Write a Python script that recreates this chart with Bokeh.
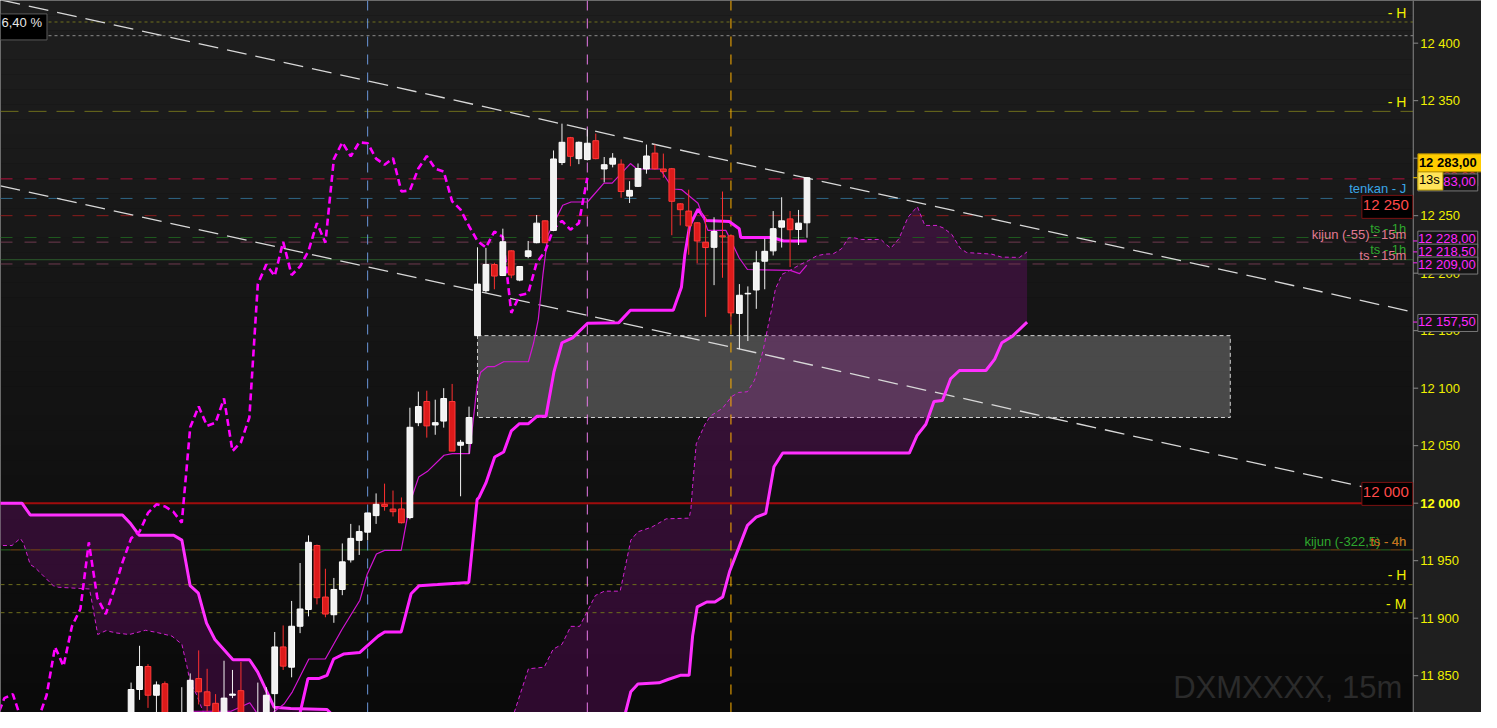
import numpy as np
from bokeh.plotting import figure
from bokeh.models import Range1d, Label, ColumnDataSource
from bokeh.core.properties import value
from bokeh.embed import file_html
from bokeh.resources import INLINE

# ------------------------------------------------------------------ data
bar_index = list(range(81))
opens = [11812, 11838, 11858, 11833, 11843, 11812, 11800, 11812, 11847.5, 11836,
         11826, 11812, 11833, 11837, 11800, 11800, 11812, 11834.4, 11875, 11857.4,
         11893, 11907.6, 11963.2, 11918.4, 11903, 11925, 11950.7, 11967.7, 11974.8, 11989.2,
         11999, 11994.9, 11995, 11987.5, 12070, 12088.4, 12068, 12071.4, 12088.4, 12050.4,
         12052, 12145.7, 12184.8, 12207.5, 12198, 12219.4, 12194, 12214.6, 12226.5, 12245.5,
         12237.2, 12296.2, 12317.8, 12299.6, 12298.8, 12315.2, 12290.6, 12294.8, 12294.8, 12267,
         12275.5, 12290.6, 12304.4, 12290.6, 12290.8, 12260.3, 12254, 12243.8, 12226.9, 12222.5,
         12232.5, 12232.5, 12165, 12182, 12185.4, 12210.4, 12219.4, 12240, 12247.2, 12238,
         12243.8]
highs = [11844, 11876, 11860, 11845, 11845, 11816, 11840, 11852, 11872, 11856,
         11834, 11863, 11855, 11862, 11815, 11844, 11840, 11888, 11893.7, 11915,
         11948, 11972, 11964, 11943, 11935, 11965, 11982, 11980.7, 11991.5, 12008.5,
         12017, 12011, 12005, 12083, 12097, 12097.8, 12090, 12100, 12103.7, 12055,
         12084, 12222.5, 12222, 12209, 12238.7, 12220, 12206, 12228, 12250.6, 12246,
         12306.7, 12330, 12318.5, 12314.5, 12325, 12321.4, 12301, 12304.4, 12299, 12280,
         12295.4, 12311.8, 12311.8, 12304, 12291.5, 12261, 12272.6, 12244.5, 12248.6, 12248.6,
         12271, 12233, 12190.5, 12188.5, 12219.4, 12230, 12254, 12266, 12254, 12255,
         12283.4]
lows = [11805, 11829, 11822, 11812, 11805, 11800, 11795, 11805, 11825, 11819,
        11806, 11808, 11830.5, 11808, 11795, 11795, 11808, 11815, 11855, 11848.6,
        11887, 11901.6, 11912, 11900.8, 11896, 11920, 11948.4, 11955, 11967.7, 11982,
        11993.5, 11988.4, 11982.4, 11986, 12067, 12057, 12059.5, 12065.7, 12045.3, 12006,
        12043, 12145, 12183, 12186, 12197.5, 12195.6, 12193, 12213, 12226, 12226,
        12236.5, 12294, 12293, 12294.8, 12298, 12299, 12279, 12292, 12265.6, 12261,
        12275, 12286.5, 12290, 12283, 12233, 12241.5, 12216, 12208.6, 12162, 12189.6,
        12196, 12155, 12134, 12141, 12169, 12186, 12215.4, 12222.3, 12205.3, 12224.5,
        12230.8]
closes = [11838, 11858, 11833, 11842, 11812, 11806, 11815, 11846, 11836, 11824,
          11812, 11830.5, 11834, 11812, 11810, 11812, 11833, 11875, 11858.3, 11893,
          11908, 11966, 11917.8, 11903.6, 11925, 11949, 11969.4, 11975.3, 11991.5, 11999,
          11997.2, 11992.6, 11983, 12066, 12084, 12067.2, 12070, 12091, 12045.3, 12053,
          12074.5, 12190.5, 12207.5, 12197.5, 12227.3, 12198.4, 12205.8, 12219.4, 12243.5, 12226.5,
          12299.3, 12313.8, 12301.6, 12313.8, 12313, 12299.6, 12294.3, 12300, 12271, 12272,
          12291, 12301.9, 12290.8, 12288.3, 12262.5, 12255.2, 12241, 12228, 12222.3, 12236.2,
          12231.6, 12165.5, 12180.8, 12182.5, 12209, 12219, 12238.7, 12245.5, 12237.8, 12243.5,
          12283]

tenkan_idx = [6.21, 7.03, 9.48, 11.83, 14.05, 15.0, 16.5, 18.11, 19.09, 21.04, 22.99, 24.94,
              27.08, 27.95, 29.04, 30.01, 31.97, 33.02, 34.04, 35.05, 37.04, 38.02, 40.05,
              40.96, 41.38, 42.21, 43.04, 44.1, 47.03, 47.65, 48.2, 48.75, 49.33, 51.09,
              52.07, 54.02, 55.97, 56.94, 59.1, 59.87, 62.61, 64.17, 65.14, 67.1, 68.27,
              70.41, 71.98, 72.95, 78.02, 79.12, 79.98]
tenkan_val = [11812, 11819.1, 11819.1, 11819.1, 11826.5, 11816.3, 11816.3, 11825.4, 11836,
              11864.5, 11864.5, 11890, 11915.6, 11938.2, 11955.8, 11959, 11959, 12000.6,
              12022.7, 12027.5, 12041.7, 12043.1, 12043.1, 12102.6, 12113.9, 12118.8,
              12118.8, 12123, 12123, 12139.5, 12160, 12199, 12233, 12259.1, 12261.9,
              12261.9, 12278.3, 12278.3, 12295.3, 12290.6, 12290.6, 12273.2, 12272.7,
              12260.8, 12237.2, 12237.2, 12213.2, 12203.2, 12202.4, 12199.6, 12207]

kijun_idx = [19.7, 20.93, 22.2, 23.19, 23.97, 25.14, 27.08, 29.24, 30.01, 31.97, 33.14, 34.1,
             36.27, 39.97, 40.96, 41.17, 42.0, 43.04, 44.1, 45.01, 45.97, 47.03, 48.07,
             49.11, 50.04, 51.0, 52.25, 54.02, 57.73, 59.1, 64.17, 65.14, 65.54, 66.12,
             67.1, 68.07, 70.8, 71.98, 72.16, 75.88, 77.25, 79.98]
kijun_val = [11808, 11847.5, 11847.5, 11850.3, 11864.5, 11868.8, 11870.2, 11884.4, 11888,
             11888, 11921.2, 11928.3, 11929.2, 11931.1, 12003.4, 12004.8, 12017.6, 12040.2,
             12044.5, 12062.9, 12069.1, 12069.1, 12075.7, 12075.7, 12113.9, 12139.5,
             12143.7, 12156.5, 12157, 12167.8, 12167.8, 12187.7, 12216, 12241.5, 12255.7,
             12245.8, 12245, 12238.7, 12231, 12231, 12228, 12228]

senkou_a_idx = [-16.0, -14.09, -13.11, -12.73, -11.94, -11.36, -10.57, -9.22, -8.63, -4.92,
                -4.53, -3.95, -2.96, -1.79, -0.23, 1.72, 3.28, 4.84, 6.01, 6.59, 6.99, 7.76,
                8.35, 9.13, 27.0, 44.0, 45.35, 47.03, 48.9, 49.95, 51.0, 52.04, 53.09, 54.96,
                56.02, 57.89, 58.31, 59.15, 59.99, 61.66, 63.34, 66.05, 66.26, 66.46, 66.89,
                67.93, 68.56, 70.02, 71.07, 71.91, 72.95, 73.79, 74.41, 74.84, 75.46, 75.88,
                76.26, 77.05, 77.83, 79.19, 80.18, 81.15, 82.12, 83.1, 84.07, 84.93, 85.63,
                86.42, 88.76, 89.34, 89.93, 90.9, 91.95, 93.06, 93.95, 95.4, 96.17, 97.15,
                98.13, 98.91, 100.08, 101.84, 103.01, 105.15, 106.05]
senkou_a_val = [11963.2, 11963.2, 11969.4, 11965.1, 11946.7, 11943.9, 11938.2, 11928.3,
                11926.9, 11925.4, 11909.9, 11885.8, 11889.2, 11887.2, 11885.8, 11889.5,
                11887.2, 11884.4, 11877.3, 11858.8, 11844.6, 11833.3, 11822, 11807.8,
                11760, 11790, 11818, 11856, 11857.4, 11873, 11877.3, 11892.9, 11892.9,
                11919.8, 11923.5, 11923.5, 11938.2, 11967.9, 11975.1, 11979.3, 11986.4,
                11987, 11994.9, 12014.7, 12051.6, 12068.6, 12075.7, 12082.7, 12092.7,
                12096.3, 12096.9, 12106.9, 12122.4, 12133.8, 12156.5, 12170.7, 12186.2,
                12199, 12201.8, 12207.5, 12210.9, 12215.1, 12216.6, 12216.8, 12221.1,
                12230.7, 12230.7, 12229.3, 12229.3, 12225.1, 12221.7, 12230.2, 12248.6,
                12257.9, 12241.5, 12241.5, 12239.2, 12233.6, 12221.7, 12217.9, 12217.4,
                12216.6, 12214, 12213.7, 12218.5]

senkou_b_idx = [-16.0, -12.92, -11.94, -1.02, -0.04, 0.94, 5.04, 6.01, 6.99, 7.96, 8.93,
                9.92, 12.06, 14.02, 14.99, 16.94, 18.89, 23.19, 24.36, 40.0, 57.0, 58.52,
                59.15, 59.99, 62.49, 63.54, 65.0, 66.05, 66.46, 67.01, 68.14, 69.1, 70.02,
                70.86, 71.91, 72.95, 73.99, 75.13, 76.09, 77.13, 92.11, 93.02, 94.07, 95.03,
                96.03, 97.0, 98.04, 101.18, 102.22, 103.06, 104.32, 106.05]
senkou_b_val = [12000, 12000, 11989.8, 11989.8, 11982.1, 11972.2, 11972.2, 11967.9, 11928.3,
                11921.8, 11895.7, 11881.5, 11863.9, 11863.9, 11853.1, 11822.5, 11821.4,
                11820.6, 11812, 11760, 11790, 11818, 11836.1, 11842.7, 11843.8, 11846.7,
                11850.3, 11850.3, 11884.4, 11909.9, 11914.1, 11914.1, 11918.4, 11941.1,
                11960.9, 11980.7, 11987.8, 11991.2, 12031.7, 12043.6, 12043.6, 12058.7,
                12068.6, 12088.4, 12089.3, 12108.2, 12115.4, 12115.4, 12125.3, 12139.5,
                12145.2, 12157.5]

chikou_shift = 26

price_ticks = [11850, 11900, 11950, 12000, 12050, 12100, 12150, 12200, 12250, 12300, 12350, 12400]
price_tick_labels = ["11 850", "11 900", "11 950", "12 000", "12 050", "12 100", "12 150",
                     "12 200", "12 250", "12 300", "12 350", "12 400"]

level_values = [12418.4, 12406.5, 12340.7, 12282.0, 12265.0, 12250.0, 12231.0, 12227.0,
                12211.7, 12208.0, 12000.0, 11959.4, 11929.2, 11904.8]
marker_bars = [28, 54, 71]
trend_upper_idx = [-15.46, 151.76]
trend_upper_val = [12437.7, 12166.2]
trend_lower_idx = [-15.46, 151.76]
trend_lower_val = [12276.0, 12004.6]
gap_box_end_bar = 130.1
tag_values = [12283.0, 12228.0, 12218.5, 12209.0, 12157.5]

# ------------------------------------------------------------------ figure
def idx_at(xref):
    return (xref - 132) / 8.54

def price_at(yref):
    return 12000 + (514 - yref) / 1.176

def fmt(v, dec=2):
    s = f"{v:,.{dec}f}"
    return s.replace(",", " ").replace(".", ",")

X0 = idx_at(0)          # left edge of the chart
XE = idx_at(1428)       # price-axis line
XF = idx_at(1497)       # right edge of the axis panel
Y0, Y1 = 11818.0, 12437.1
F = "Liberation Sans"

p = figure(width=1481, height=712, x_range=Range1d(X0, XF), y_range=Range1d(Y0, Y1),
           x_axis_location=None, y_axis_location=None, toolbar_location=None,
           output_backend="svg", min_border=0)
p.grid.visible = False
p.outline_line_color = None
p.background_fill_color = "#111111"
p.border_fill_color = "#1f1f1f"

# background gradient (style only)
nb = 48
edges = np.linspace(Y0, Y1, nb + 1)
cols = []
for k in range(nb):
    g = int(round(10 + (30 - 10) * k / (nb - 1)))
    cols.append("#%02x%02x%02x" % (g, g, g))
p.quad(left=[X0] * nb, right=[XE] * nb, bottom=edges[:-1], top=edges[1:],
       fill_color=cols, line_color=None)

# gap box
p.quad(left=[41], right=[gap_box_end_bar], bottom=[closes[40]], top=[opens[41]],
       fill_color="#8c8c8c", fill_alpha=0.45, line_color="#d2d2d2", line_dash="4 3", line_width=1)

# cloud
cloud_x = senkou_a_idx + senkou_b_idx[::-1]
cloud_y = senkou_a_val + senkou_b_val[::-1]
p.patch(cloud_x, cloud_y, fill_color="#8c0a8c", fill_alpha=0.28, line_color=None)

# horizontal levels
level_styles = [
    ("#6e6e1c", "3 3", 1), ("#8a8a8a", "3 3", 1), ("#6e6e1c", "18 10", 1),
    ("#b8123f", "12 12", 1), ("#2f6685", "12 12", 1), ("#8c1c1c", "12 12", 1),
    ("#1f5a1f", "12 12", 1), ("#6e3a4e", "12 12", 1), ("#2b5a2b", "solid", 1),
    ("#6e3a4e", "12 12", 1), ("#a00c0c", "solid", 2), ("#2a6a22", "10 10", 1),
    ("#6e6e1c", "4 4", 1), ("#6e6e1c", "4 4", 1)]
for v, (c, d, w) in zip(level_values, level_styles):
    p.segment(x0=[X0], y0=[v], x1=[XE], y1=[v], line_color=c, line_dash=d, line_width=w)
p.segment(x0=[X0], y0=[level_values[11]], x1=[XE], y1=[level_values[11]],
          line_color="#7a4a14", line_dash="10 10", line_dash_offset=10, line_width=1)

# vertical markers
for b, c in zip(marker_bars, ["#6a96d8", "#e87ae8", "#ffb000"]):
    p.segment(x0=[b], y0=[Y0], x1=[b], y1=[Y1], line_color=c, line_dash="10 8", line_width=1)

# trend channel
p.line(trend_upper_idx, trend_upper_val, line_color="#d8d8d8", line_dash="20 9", line_width=1.3)
p.line(trend_lower_idx, trend_lower_val, line_color="#d8d8d8", line_dash="20 9", line_width=1.3)

# ichimoku lines
p.line(senkou_a_idx, senkou_a_val, line_color="#d020d0", line_dash="4 3", line_width=1)
p.line(senkou_b_idx, senkou_b_val, line_color="#ff30ff", line_width=3)
p.line(kijun_idx, kijun_val, line_color="#ff22ff", line_width=3)
p.line(tenkan_idx, tenkan_val, line_color="#d414d4", line_width=1.2)
p.line([i - chikou_shift for i in bar_index], closes, line_color="#ff00ff",
       line_dash="7 4", line_width=2.6)

# candles
def pick(cond):
    ids = [i for i in bar_index if cond(i)]
    return ColumnDataSource(dict(
        x=ids,
        top=[max(opens[i], closes[i]) for i in ids],
        bottom=[min(opens[i], closes[i]) for i in ids],
        h=[highs[i] for i in ids],
        l=[lows[i] for i in ids]))

up = pick(lambda i: closes[i] >= opens[i])
dn = pick(lambda i: closes[i] < opens[i])
p.segment(x0="x", y0="l", x1="x", y1="h", source=up, line_color="#f2f2f2", line_width=1)
p.segment(x0="x", y0="l", x1="x", y1="h", source=dn, line_color="#ff3030", line_width=1)
p.vbar(x="x", width=0.68, top="top", bottom="bottom", source=up,
       fill_color="#f2f2f2", line_color="#ffffff", line_width=1)
p.vbar(x="x", width=0.68, top="top", bottom="bottom", source=dn,
       fill_color="#dd1a1a", line_color="#ff3a3a", line_width=1)

# ------------------------------------------------------------------ price-axis panel
p.quad(left=[XE], right=[XF + 1], bottom=[Y0], top=[Y1], fill_color="#1f1f1f", line_color=None)
p.segment(x0=[XE], y0=[Y0], x1=[XE], y1=[Y1], line_color="#8a8a8a", line_width=1)
n = len(price_ticks)
p.segment(x0=[XE] * n, y0=price_ticks, x1=[idx_at(1433)] * n, y1=price_ticks,
          line_color="#8a8a8a", line_width=1)
m = len(tag_values)
p.segment(x0=[XE] * m, y0=tag_values, x1=[idx_at(1432)] * m, y1=tag_values,
          line_color=["#ffd000"] + ["#ff28ff"] * (m - 1), line_width=1)
tick_src = ColumnDataSource(dict(
    x=[idx_at(1435)] * n, y=price_ticks, t=price_tick_labels,
    st=["bold" if v == 12000 else "normal" for v in price_ticks],
    c=["#ffff10" if v == 12000 else "#f0f000" for v in price_ticks]))
p.text(x="x", y="y", text="t", source=tick_src, text_font=value(F), text_font_size="13px",
       text_font_style="st", text_color="c", text_baseline="middle", text_align="left")

def lab(x, y, text, color, size="13px", align="right", **kw):
    p.add_layout(Label(x=x, y=y, text=text, text_color=color, text_font=F,
                       text_font_size=size, text_align=align, text_baseline="middle", **kw))

# right-side level texts
xr = idx_at(1421)
lab(xr, price_at(13), "- H", "#f0f000", size="14px")
lab(xr, price_at(104), "- H", "#f0f000", size="14px")
lab(xr, price_at(192), "tenkan - J", "#3aa6e6")
lab(xr, price_at(233.5), "ts - 1h", "#2ea82e")
lab(xr, price_at(239.5), "kijun (-55) - 15m", "#e27a92")
lab(xr, price_at(254.5), "ts - 1h", "#2ea82e")
lab(xr, price_at(260.5), "ts - 15m", "#e27a92")
lab(xr, price_at(552.7), "kijun (-322,5) - 4h", "#2ea82e")
lab(xr, price_at(552.7), "ts - 4h", "#d2651e")
lab(xr, price_at(587.3), "- H", "#f0f000", size="14px")
lab(xr, price_at(616.7), "- M", "#f0f000", size="14px")

# boxed round-number labels
lab(idx_at(1427.5), price_at(211), fmt(level_values[5], 0), "#ff4a4a", size="15px",
    background_fill_color="#000000", border_line_color="#7a1212", padding=(1, 4, 1, 5))
lab(idx_at(1427.5), price_at(504.5), fmt(level_values[10], 0), "#ff4a4a", size="15px",
    background_fill_color="#000000", border_line_color="#7a1212", padding=(1, 4, 1, 5))

# top-left percentage box
lab(idx_at(47), price_at(27), "6,40 %", "#e6e6e6", size="13px",
    background_fill_color="#000000", border_line_color="#5a5a5a", padding=(1, 5, 1, 10))

# watermark
p.add_layout(Label(x=idx_at(1417), y=price_at(702), text="DXMXXXX, 15m", text_color="#2b2b2b",
                   text_font=F, text_font_size="31px", text_align="right",
                   text_baseline="alphabetic"))

# price tags in the axis panel
xt = idx_at(1432.7)
tag_kw = dict(background_fill_color="#141414", border_line_color="#7a7a7a", padding=(0, 2, 0, 2),
              align="left")
lab(xt, price_at(181), fmt(tag_values[0]), "#c0104a", **tag_kw)
lab(xt, price_at(186), fmt(tag_values[0]), "#ff28ff", **tag_kw)
lab(xt, price_at(244.5), fmt(tag_values[1]), "#ff28ff", **tag_kw)
lab(xt, price_at(257.8), fmt(tag_values[2]), "#ff28ff", **tag_kw)
lab(xt, price_at(271), fmt(tag_values[3]), "#ff28ff", **tag_kw)
lab(xt, price_at(329.7), fmt(tag_values[4]), "#ff28ff", **tag_kw)
lab(xt, price_at(184), "13s", "#000000", align="left",
    background_fill_color="#ffe45a", border_line_color="#c8a800", padding=(1, 3, 1, 3))
lab(xt, price_at(166), fmt(tag_values[0]), "#000000", align="left", text_font_style="bold",
    background_fill_color="#ffcc00", border_line_color="#b08a00", padding=(1, 8, 1, 2))

open("out.html", "w").write(file_html(p, INLINE))
